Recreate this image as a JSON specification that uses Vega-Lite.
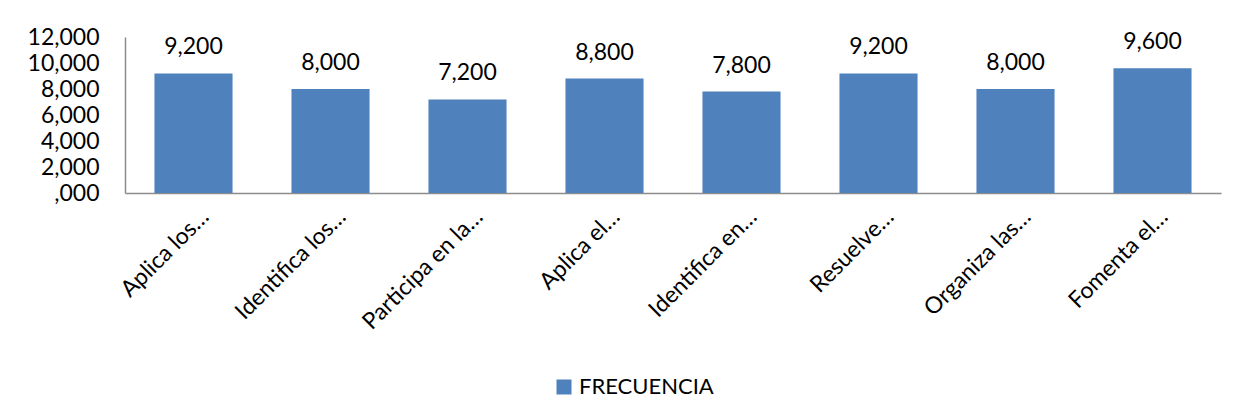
{
  "$schema": "https://vega.github.io/schema/vega-lite/v6.json",
  "autosize": {"type": "none"},
  "width": 1096,
  "height": 156,
  "padding": {"left": 125, "top": 37, "right": 27, "bottom": 227},
  "background": "white",
  "data": {
    "values": [
      {"criterio": "Aplica los…", "frecuencia": 9200, "serie": "FRECUENCIA"},
      {"criterio": "Identifica los…", "frecuencia": 8000, "serie": "FRECUENCIA"},
      {"criterio": "Participa en la…", "frecuencia": 7200, "serie": "FRECUENCIA"},
      {"criterio": "Aplica el…", "frecuencia": 8800, "serie": "FRECUENCIA"},
      {"criterio": "Identifica en…", "frecuencia": 7800, "serie": "FRECUENCIA"},
      {"criterio": "Resuelve…", "frecuencia": 9200, "serie": "FRECUENCIA"},
      {"criterio": "Organiza las…", "frecuencia": 8000, "serie": "FRECUENCIA"},
      {"criterio": "Fomenta el…", "frecuencia": 9600, "serie": "FRECUENCIA"}
    ]
  },
  "encoding": {
    "x": {
      "field": "criterio",
      "type": "nominal",
      "sort": null,
      "scale": {"paddingInner": 0.43, "paddingOuter": 0.215},
      "axis": {
        "title": null,
        "labelAngle": -45,
        "labelFont": "Lato",
        "labelFontSize": 23,
        "labelColor": "#000000",
        "labelPadding": 12,
        "labelOffset": 4,
        "labelLimit": 300,
        "ticks": false,
        "domainColor": "#8c8c8c",
        "domainWidth": 1.5
      }
    },
    "y": {
      "field": "frecuencia",
      "type": "quantitative",
      "scale": {"domain": [0, 12000], "nice": false},
      "axis": {
        "title": null,
        "values": [0, 2000, 4000, 6000, 8000, 10000, 12000],
        "labelExpr": "datum.value == 0 ? ',000' : format(datum.value, ',')",
        "labelFont": "Lato",
        "labelFontSize": 23,
        "labelColor": "#000000",
        "labelPadding": 26,
        "ticks": false,
        "grid": false,
        "domainColor": "#8c8c8c",
        "domainWidth": 1.5
      }
    }
  },
  "layer": [
    {
      "mark": {"type": "bar", "color": "#4F81BD"},
      "encoding": {
        "color": {
          "field": "serie",
          "type": "nominal",
          "scale": {"range": ["#4F81BD"]},
          "legend": {
            "title": null,
            "orient": "none",
            "legendX": 428,
            "legendY": 339,
            "padding": 0,
            "direction": "horizontal",
            "symbolType": "square",
            "symbolSize": 225,
            "symbolStrokeWidth": 0,
            "labelFont": "Lato",
            "labelFontSize": 22,
            "labelColor": "#000000",
            "labelOffset": 4
          }
        }
      }
    },
    {
      "mark": {"type": "text", "font": "Lato", "fontSize": 23, "color": "#000000", "baseline": "alphabetic", "dy": -19},
      "encoding": {
        "text": {"field": "frecuencia", "type": "quantitative", "format": ","}
      }
    }
  ],
  "config": {
    "view": {"stroke": null}
  }
}
